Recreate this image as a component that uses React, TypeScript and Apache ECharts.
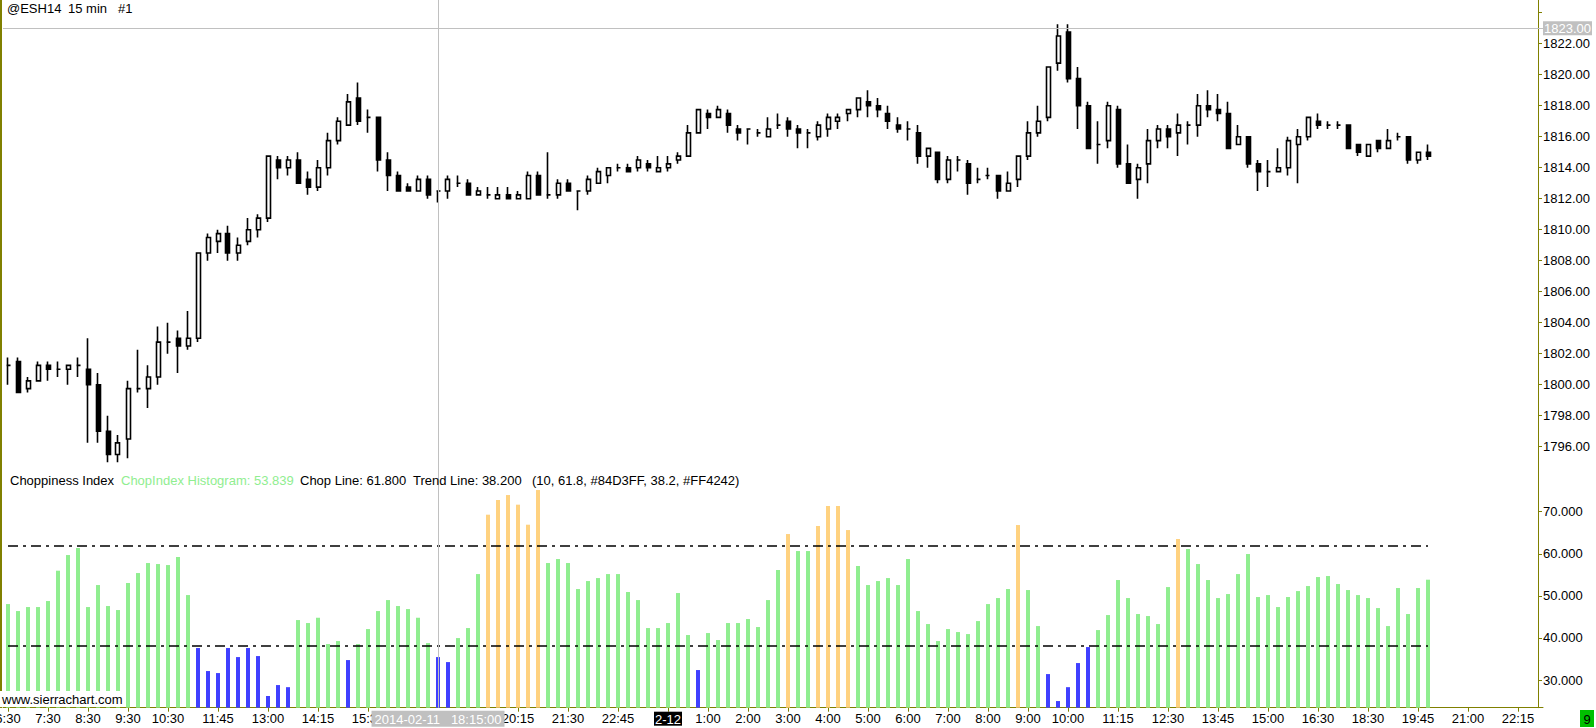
import React, { useEffect, useRef } from 'react';
import * as echarts from 'echarts';

// ---------- data ----------
const OPEN = [
  1801.25, 1801.5, 1799.75, 1800.25, 1801.25, 1801, 1801, 1801.25, 1801, 1800,
  1797, 1795.5, 1796.5, 1799.75, 1799.75, 1800.5, 1802.75, 1803, 1802.5, 1803,
  1808.5, 1809.25, 1809.75, 1808.5, 1809.25, 1810, 1810.75, 1814.5, 1814, 1814.5,
  1813.25, 1812.75, 1814, 1815.75, 1816.75, 1818.5, 1817.25, 1817.25, 1814.5, 1813.5,
  1812.75, 1812.5, 1813.25, 1812.5, 1812.5, 1813, 1813, 1812.25, 1812.25, 1812,
  1812.25, 1812, 1812, 1813.5, 1812.25, 1812.25, 1813, 1812.5, 1812.5, 1813,
  1813.5, 1814, 1814, 1814, 1814.25, 1813.75, 1814, 1814.5, 1814.75, 1816.25,
  1817.5, 1817.25, 1817.5, 1816.5, 1816.5, 1816.25, 1816, 1816.75, 1817, 1816.5,
  1816.25, 1816, 1816.5, 1817, 1817.5, 1817.75, 1818.25, 1818, 1817.5, 1816.75,
  1816.5, 1816.25, 1814.75, 1815, 1813.25, 1814.5, 1814.25, 1813.25, 1813.5, 1813.5,
  1812.5, 1813.25, 1814.75, 1816.25, 1817.25, 1820.75, 1822.75, 1819.75, 1818, 1815.5,
  1815.75, 1817.75, 1814.25, 1813.25, 1814.25, 1815.75, 1816.5, 1816.25, 1816.75, 1816.75,
  1818, 1817.75, 1817.5, 1815.5, 1816, 1814.25, 1813.75, 1813.75, 1814, 1815.5,
  1816, 1817, 1816.75, 1816.75, 1816.75, 1815.5, 1814.75, 1815.75, 1815.25, 1816,
  1816, 1814.5, 1815,
];
const HIGH = [
  1801.75, 1801.75, 1800.5, 1801.5, 1801.5, 1801.5, 1801.25, 1801.75, 1803, 1800.75,
  1798, 1796.75, 1800.25, 1802.25, 1801.25, 1803.75, 1804, 1803.5, 1804.75, 1808.5,
  1809.75, 1810, 1810.25, 1809.5, 1810.75, 1811, 1814.75, 1814.75, 1814.75, 1815,
  1813.75, 1814.5, 1816.25, 1817.25, 1818.75, 1819.5, 1817.75, 1817.25, 1815, 1813.75,
  1813, 1813.5, 1813.5, 1812.5, 1813.5, 1813.5, 1813.25, 1812.75, 1812.75, 1812.75,
  1812.75, 1812.5, 1813.75, 1813.75, 1815, 1813.25, 1813.25, 1812.5, 1813.5, 1814,
  1814, 1814.25, 1814.25, 1814.75, 1814.5, 1814.75, 1814.75, 1815, 1816.75, 1817.75,
  1817.75, 1818, 1817.75, 1816.75, 1816.5, 1816.5, 1817.25, 1817.5, 1817.25, 1816.75,
  1816.5, 1817, 1817.5, 1817.5, 1817.75, 1818.5, 1819, 1818.5, 1818, 1817.25,
  1817, 1816.75, 1815.25, 1815, 1814.75, 1814.75, 1814.5, 1814, 1814, 1813.5,
  1813.75, 1814.75, 1817, 1818, 1820.5, 1823.25, 1823.25, 1820.5, 1818.25, 1817,
  1818.25, 1818, 1815.5, 1814.25, 1816.5, 1816.75, 1816.75, 1817.5, 1817, 1818.75,
  1819, 1818.75, 1818.25, 1816.75, 1816, 1814.5, 1814.5, 1815.25, 1816, 1816.5,
  1817.25, 1817.5, 1817, 1817, 1816.75, 1815.5, 1815.5, 1815.75, 1816.5, 1816.25,
  1816, 1815, 1815.5,
];
const LOW = [
  1800, 1799.5, 1799.5, 1800.25, 1800.25, 1800.5, 1800, 1800.5, 1796.25, 1796.25,
  1795, 1795, 1795.25, 1799.5, 1798.5, 1800, 1802, 1800.75, 1802.25, 1802.75,
  1808, 1808.5, 1808, 1808, 1809, 1809.5, 1810.5, 1813.25, 1813.5, 1813,
  1812.25, 1812.5, 1813.5, 1815.5, 1816.75, 1816.75, 1816.25, 1813.75, 1812.5, 1812.5,
  1812.5, 1812.5, 1812, 1811.75, 1812, 1812.75, 1812.25, 1812.25, 1812, 1812,
  1812, 1812, 1812, 1812.25, 1812, 1812, 1812.5, 1811.25, 1812.25, 1813,
  1813, 1813.75, 1813.75, 1813.75, 1813.75, 1813.75, 1813.75, 1814.25, 1814.75, 1816.25,
  1816.5, 1817.25, 1816.25, 1815.75, 1815.5, 1816, 1816, 1816.5, 1816, 1815.25,
  1815.25, 1815.75, 1816, 1816.5, 1817, 1817.25, 1817.25, 1817.25, 1816.5, 1816.25,
  1815.75, 1814.25, 1814, 1813, 1813, 1813.75, 1812.25, 1813, 1813.25, 1812,
  1812.5, 1812.75, 1814.5, 1816, 1817, 1820.25, 1819.5, 1816.5, 1815.25, 1814.25,
  1815.25, 1814, 1813, 1812, 1813, 1815.25, 1815.25, 1814.75, 1815.5, 1816,
  1817.25, 1817, 1815.25, 1815.5, 1814, 1812.5, 1812.75, 1813.75, 1813.5, 1813,
  1815.75, 1816.5, 1816.5, 1816.5, 1815.25, 1814.75, 1814.75, 1815, 1815.25, 1815.75,
  1814.25, 1814.25, 1814.5,
];
const CLOSE = [
  1801.25, 1799.5, 1800.25, 1801.25, 1801, 1801, 1801.25, 1801.25, 1800, 1797,
  1795.5, 1796.25, 1799.75, 1799.75, 1800.5, 1802.75, 1802.75, 1802.5, 1803, 1808.5,
  1809.5, 1809.75, 1808.5, 1809, 1810, 1810.75, 1814.75, 1814, 1814.5, 1813,
  1812.75, 1814, 1815.75, 1817, 1818.25, 1817, 1817.25, 1814.5, 1813.5, 1812.5,
  1812.5, 1813.25, 1812.25, 1812.5, 1813.25, 1813, 1812.25, 1812.5, 1812.25, 1812.25,
  1812, 1812.25, 1813.5, 1812.25, 1812.25, 1813, 1812.5, 1812.5, 1813.25, 1813.75,
  1814, 1814, 1813.75, 1814.5, 1814, 1814, 1814.25, 1814.75, 1816.25, 1817.75,
  1817.25, 1817.75, 1816.75, 1816.25, 1816.5, 1816.25, 1816.5, 1816.75, 1816.5, 1816.25,
  1816.25, 1816.75, 1817.25, 1817.25, 1817.75, 1818.5, 1818, 1817.75, 1817, 1816.5,
  1816.5, 1814.75, 1815.25, 1813.25, 1814.5, 1814.5, 1813, 1813.25, 1813.5, 1812.5,
  1813, 1814.75, 1816.25, 1817, 1820.5, 1822.5, 1819.75, 1818, 1815.25, 1815.5,
  1818, 1814.25, 1813, 1814, 1815.75, 1816.5, 1816, 1816.75, 1816.75, 1818,
  1817.75, 1817.5, 1815.25, 1816, 1814.25, 1813.75, 1813.75, 1814, 1815.75, 1816,
  1817.25, 1816.75, 1816.75, 1816.75, 1815.25, 1815, 1815.5, 1815.25, 1815.75, 1816,
  1814.5, 1815, 1814.75,
];
const CHOP = [
  48.05, 46.39, 47.34, 47.34, 48.77, 55.98, 59.7, 61.37, 47.34, 52.57,
  47.58, 46.63, 53.05, 55.42, 57.8, 57.56, 57.32, 59.23, 50.19, 37.6,
  32.13, 31.65, 37.6, 35.45, 37.6, 35.69, 26.2, 28.8, 28.3, 44.25,
  43.54, 44.8, 38.55, 39.26, 34.74, 38.55, 42.11, 46.39, 49.0, 47.58,
  46.86, 44.8, 38.78, 35.45, 34.26, 39.97, 42.35, 55.18, 69.29, 72.78,
  73.96, 71.67, 66.91, 75.15, 57.8, 58.75, 57.8, 51.62, 53.52, 54.23,
  55.18, 55.18, 50.91, 49.0, 42.35, 42.35, 43.54, 50.67, 40.69, 32.37,
  41.16, 39.5, 43.54, 43.54, 44.49, 42.59, 49.0, 56.14, 64.69, 60.65,
  60.65, 66.6, 71.35, 71.35, 65.64, 57.09, 52.57, 53.52, 54.23, 52.57,
  58.75, 46.39, 43.3, 39.26, 42.11, 41.4, 40.92, 44.01, 48.05, 49.48,
  51.62, 66.83, 51.38, 42.82, 31.41, 25.0, 28.3, 34.03, 37.83, 41.87,
  45.44, 53.76, 49.48, 45.68, 45.2, 43.3, 52.09, 63.51, 61.13, 57.56,
  53.76, 49.48, 50.43, 55.18, 59.94, 49.72, 50.19, 47.34, 49.72, 51.14,
  52.33, 54.47, 54.71, 52.81, 51.38, 50.19, 49.48, 47.1, 42.82, 51.86,
  45.68, 51.86, 53.839,
];

// x tick labels: [bar slot, label]
const X_TICKS: [number, string][] = [
  [0, '6:30'], [4, '7:30'], [8, '8:30'], [12, '9:30'], [16, '10:30'], [21, '11:45'],
  [26, '13:00'], [31, '14:15'], [36, '15:30'], [51, '20:15'], [56, '21:30'], [61, '22:45'],
  [66, '2-12'], [70, '1:00'], [74, '2:00'], [78, '3:00'], [82, '4:00'], [86, '5:00'],
  [90, '6:00'], [94, '7:00'], [98, '8:00'], [102, '9:00'], [106, '10:00'], [111, '11:15'],
  [116, '12:30'], [121, '13:45'], [126, '15:00'], [131, '16:30'], [136, '18:30'],
  [141, '19:45'], [146, '21:00'], [151, '22:15'],
];
const DAY_MARK = '2-12';
const SLOT_COUNT = 154;

const CHOP_LINE = 61.8;
const TREND_LINE = 38.2;
const CHOP_PERIOD = 10;
const CROSS_SLOT = 43;
const CROSS_LABEL = '2014-02-11   18:15:00';
const CROSS_PRICE = 1823;
const LAST_PRICE = 1814.75;

const PRICE_MIN = 1794.5;
const PRICE_MAX = 1824.82;
const CHOP_MIN = 23.42;
const CHOP_MAX = 79.91;

// ---------- style ----------
const FONT = '"Liberation Sans", Arial, sans-serif';
const OLIVE = '#808000';
const GREEN = '#90EE90';
const ORANGE = '#FFD280';
const BLUE = '#4040FF';

function barColor(v: number) {
  if (v > CHOP_LINE) return ORANGE;
  if (v < TREND_LINE) return BLUE;
  return GREEN;
}

function txt(text: string, x: number, y: number, fill = '#000', align = 'left') {
  return {
    type: 'text',
    z: 100,
    silent: true,
    x,
    y,
    style: {
      text,
      fill,
      font: `13px ${FONT}`,
      textAlign: align,
      align,
      textVerticalAlign: 'middle',
      verticalAlign: 'middle',
    },
  };
}

export default function App() {
  const ref = useRef<HTMLDivElement>(null);

  useEffect(() => {
    const chart = echarts.init(ref.current!, null, { renderer: 'svg' });
    const slots = Array.from({ length: SLOT_COUNT }, (_, i) => String(i));
    const tickMap = new Map<number, string>(X_TICKS);
    const candles = OPEN.map((o, i) => [o, CLOSE[i], LOW[i], HIGH[i]]);
    const bars = CHOP.map((v) => ({ value: v, itemStyle: { color: barColor(v) } }));
    const lastChop = CHOP[CHOP.length - 1];
    const lastSlot = String(CHOP.length - 1);

    const labelStyle = { color: '#000', fontSize: 13, fontFamily: FONT };

    const option: any = {
      animation: false,
      backgroundColor: '#fff',
      textStyle: { fontFamily: FONT },
      grid: [
        { left: 3, top: 0, width: 1540, height: 470, outerBoundsMode: 'none' },
        { left: 3, top: 470, width: 1540, height: 237.7, outerBoundsMode: 'none' },
      ],
      xAxis: [
        {
          type: 'category',
          gridIndex: 0,
          data: slots,
          axisLine: { show: false },
          axisTick: { show: false },
          axisLabel: { show: false },
          splitLine: { show: false },
        },
        {
          type: 'category',
          gridIndex: 1,
          data: slots,
          axisLine: { show: true, onZero: false, lineStyle: { color: OLIVE, width: 1 } },
          axisTick: {
            show: true,
            alignWithLabel: true,
            length: 4,
            interval: (i: number) => tickMap.has(i),
            lineStyle: { color: OLIVE },
          },
          axisLabel: {
            ...labelStyle,
            interval: 0,
            margin: 4,
            alignMinLabel: 'center',
            alignMaxLabel: 'center',
            formatter: (_v: string, i: number) => {
              const t = tickMap.get(i);
              if (!t) return '';
              return t === DAY_MARK ? `{day|${t}}` : t;
            },
            rich: {
              day: {
                backgroundColor: '#000',
                color: '#fff',
                fontSize: 13,
                fontFamily: FONT,
                padding: [1, 1, 0, 1],
              },
            },
          },
          splitLine: { show: false },
        },
      ],
      yAxis: [
        {
          type: 'value',
          gridIndex: 0,
          position: 'right',
          offset: -5,
          min: PRICE_MIN,
          max: PRICE_MAX,
          splitNumber: 15,
          scale: true,
          axisLine: { show: true, lineStyle: { color: OLIVE, width: 1 } },
          axisTick: { show: true, length: 4, lineStyle: { color: OLIVE } },
          axisLabel: {
            ...labelStyle,
            margin: 5,
            showMinLabel: false,
            showMaxLabel: false,
            formatter: (v: number) => {
              const r = Math.round(v);
              if (Math.abs(v - r) > 1e-6 || r % 2 !== 0 || r < 1796 || r > 1822) return '';
              return r.toFixed(2);
            },
          },
          splitLine: { show: false },
        },
        {
          type: 'value',
          gridIndex: 1,
          position: 'right',
          offset: -5,
          min: CHOP_MIN,
          max: CHOP_MAX,
          splitNumber: 5,
          scale: true,
          axisLine: { show: true, lineStyle: { color: OLIVE, width: 1 } },
          axisTick: { show: true, length: 4, lineStyle: { color: OLIVE } },
          axisLabel: {
            ...labelStyle,
            margin: 5,
            showMinLabel: false,
            showMaxLabel: false,
            formatter: (v: number) => {
              const r = Math.round(v);
              if (Math.abs(v - r) > 1e-6 || r % 10 !== 0 || r < 30 || r > 70) return '';
              return r.toFixed(3);
            },
          },
          splitLine: { show: false },
        },
      ],
      series: [
        {
          type: 'candlestick',
          xAxisIndex: 0,
          yAxisIndex: 0,
          data: candles,
          barWidth: 4.5,
          itemStyle: {
            color: '#ffffff',
            color0: '#000000',
            borderColor: '#000000',
            borderColor0: '#000000',
            borderColorDoji: '#000000',
            borderWidth: 1.6,
          },
          markLine: {
            silent: true,
            animation: false,
            symbol: ['none', 'none'],
            label: { show: false },
            lineStyle: { color: '#C0C0C0', width: 1, type: 'solid' },
            data: [
              { xAxis: String(CROSS_SLOT), label: { show: false } },
              {
                yAxis: CROSS_PRICE,
                label: {
                  show: true,
                  position: 'end',
                  distance: 0,
                  formatter: CROSS_PRICE.toFixed(2),
                  backgroundColor: '#C0C0C0',
                  color: '#ffffff',
                  fontSize: 13,
                  fontFamily: FONT,
                  padding: [1, 1, 0, 1],
                },
              },
              {
                yAxis: LAST_PRICE,
                lineStyle: { opacity: 0 },
                label: {
                  show: true,
                  position: 'end',
                  distance: 0,
                  formatter: LAST_PRICE.toFixed(2),
                  backgroundColor: '#1484FF',
                  color: '#ffffff',
                  fontSize: 13,
                  fontFamily: FONT,
                  padding: [1, 1, 0, 1],
                },
              },
            ],
          },
        },
        {
          type: 'bar',
          xAxisIndex: 1,
          yAxisIndex: 1,
          data: bars,
          barWidth: 4,
          clip: true,
        },
        {
          type: 'line',
          name: 'levels',
          xAxisIndex: 1,
          yAxisIndex: 1,
          data: [],
          silent: true,
          markLine: {
            silent: true,
            animation: false,
            symbol: ['none', 'none'],
            label: { show: false },
            lineStyle: { color: '#000', width: 1.5, type: [10, 5, 3, 5] },
            data: [
              [{ coord: ['0', CHOP_LINE] }, { coord: [lastSlot, CHOP_LINE] }],
              [{ coord: ['0', TREND_LINE] }, { coord: [lastSlot, TREND_LINE] }],
              {
                xAxis: String(CROSS_SLOT),
                lineStyle: { color: '#C0C0C0', width: 1, type: 'solid' },
                label: {
                  show: true,
                  position: 'start',
                  distance: 3,
                  formatter: CROSS_LABEL,
                  backgroundColor: '#C0C0C0',
                  color: '#ffffff',
                  fontSize: 13,
                  fontFamily: FONT,
                  padding: [2, 3, 1, 3],
                },
              },
            ],
          },
        },
      ],
      graphic: [
        { type: 'rect', z: 100, silent: true, shape: { x: 0, y: 0, width: 2, height: 708 }, style: { fill: OLIVE } },
        txt('@ESH14', 7, 8),
        txt('15 min', 68, 8),
        txt('#1', 118, 8),
        txt('Choppiness Index', 10, 480),
        txt(`ChopIndex Histogram: ${lastChop.toFixed(3)}`, 121, 480, GREEN),
        txt(`Chop Line: ${CHOP_LINE.toFixed(3)}`, 300, 480),
        txt(`Trend Line: ${TREND_LINE.toFixed(3)}`, 413, 480),
        txt(`(${CHOP_PERIOD}, ${CHOP_LINE}, #84D3FF, ${TREND_LINE}, #FF4242)`, 532, 480),
        { type: 'rect', z: 100, silent: true, shape: { x: 0, y: 691, width: 124, height: 16 }, style: { fill: '#fff' } },
        txt('www.sierrachart.com', 2, 699),
        { type: 'rect', z: 100, silent: true, shape: { x: 1580, y: 710, width: 14, height: 17 }, style: { fill: '#00C000' } },
        txt('9', 1587, 719, '#000', 'center'),
      ],
    };

    chart.setOption(option);
    return () => chart.dispose();
  }, []);

  return (
    <div
      ref={ref}
      style={{ position: 'fixed', left: 0, top: 0, width: 1596, height: 728, background: '#fff' }}
    />
  );
}
